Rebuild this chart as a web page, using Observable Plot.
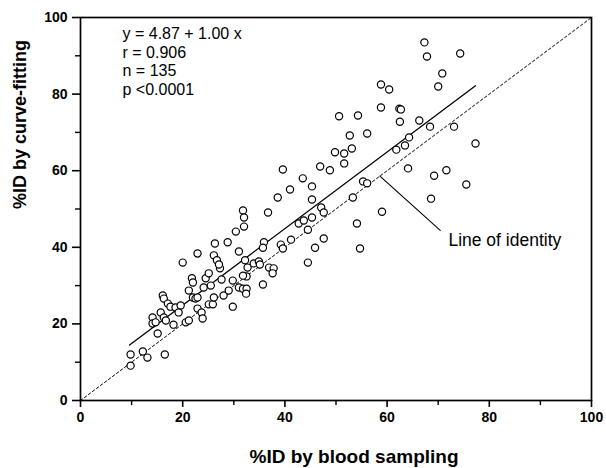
<!DOCTYPE html>
<html>
<head>
<meta charset="utf-8">
<script src="https://cdn.jsdelivr.net/npm/d3@7"></script>
<script src="https://cdn.jsdelivr.net/npm/@observablehq/plot@0.6"></script>
<style>
  html, body { margin: 0; padding: 0; background: #fff; }
  #chart svg { display: block; }
</style>
</head>
<body>
<div id="chart"></div>
<script>
// %ID by blood sampling (x) and %ID by curve-fitting (y)
const bloodSampling = [
  9.8, 9.8, 12.2, 13.1, 16.5, 15.1, 14.1, 14.1, 14.7, 15.7, 16.3, 16.7, 16.1, 16.3, 17.1, 17.6, 18.2, 18.6, 19.6, 19.2,
  20.6, 21.2, 21.2, 21.8, 22.0, 22.0, 22.5, 22.9, 22.9, 23.7, 23.9, 24.1, 24.5, 25.5, 25.1, 25.9, 26.1, 27.3, 27.6, 28.0,
  29.0, 29.8, 29.8, 31.0, 30.4, 28.8, 26.3, 22.9, 20.0, 26.1, 26.7, 27.1, 31.0, 25.1, 36.7, 31.8, 32.0, 32.0, 32.2, 32.7,
  32.5, 31.8, 31.8, 32.5, 32.4, 33.9, 34.9, 35.1, 35.9, 35.7, 35.7, 36.9, 37.8, 37.6, 39.2, 39.6, 41.2, 42.7, 43.7, 44.5,
  45.3, 44.5, 45.9, 47.1, 47.6, 47.6, 54.1, 54.7, 50.6, 54.3, 52.7, 56.1, 49.8, 51.6, 53.1, 51.6, 46.9, 48.8, 39.6, 43.5,
  41.0, 45.3, 38.6, 45.3, 55.3, 56.1, 53.3, 67.3, 67.8, 74.3, 70.8, 70.0, 58.8, 60.4, 58.8, 62.4, 62.7, 62.5, 66.3, 68.4,
  73.1, 64.3, 63.5, 61.8, 77.3, 64.1, 69.2, 71.6, 75.5, 68.6, 59.0
];
const curveFitting = [
  12.0, 9.1, 12.8, 11.2, 12.0, 17.5, 21.7, 20.1, 20.4, 23.0, 21.7, 20.9, 27.4, 26.6, 25.3, 24.5, 19.8, 24.3, 24.8, 23.0,
  20.4, 20.9, 28.7, 31.9, 30.8, 26.9, 26.6, 26.9, 24.0, 23.0, 21.4, 29.5, 31.9, 30.0, 25.1, 25.1, 26.9, 34.5, 31.6, 27.4,
  28.7, 31.3, 24.5, 29.5, 44.1, 41.3, 41.0, 38.4, 36.0, 37.9, 36.6, 35.5, 38.9, 33.2, 49.1, 49.6, 47.8, 45.4, 36.6, 34.7,
  32.4, 32.6, 29.2, 29.2, 27.9, 35.8, 36.3, 35.5, 41.3, 39.9, 30.3, 34.7, 34.5, 33.2, 40.7, 39.7, 42.0, 46.2, 47.0, 44.6,
  47.8, 36.0, 39.9, 50.4, 49.1, 42.3, 46.2, 39.7, 74.2, 74.4, 69.2, 69.7, 64.8, 64.5, 65.8, 61.9, 61.1, 60.1, 60.3, 58.0,
  55.1, 55.9, 53.0, 52.5, 57.2, 56.7, 53.0, 93.5, 89.8, 90.6, 85.4, 82.0, 82.5, 81.2, 76.5, 76.2, 76.0, 72.8, 73.1, 71.5,
  71.5, 68.7, 66.6, 65.5, 67.1, 60.6, 58.7, 60.1, 56.4, 52.7, 49.3
];

// Regression fit: y = 4.87 + 1.00 x over the observed range
const fitIntercept = 4.87;
const fitSlope = 1.00;
const fitRange = [9.6, 77.3];

const statLines = ["y = 4.87 + 1.00 x", "r = 0.906", "n = 135", "p <0.0001"];
const identityLabel = "Line of identity";
const identityLeader = [[58.6, 58.6], [70.4, 44.4]];
const identityLabelAt = [72.0, 41.8];

const majorTicks = [0, 20, 40, 60, 80, 100];
const minorTicks = [10, 30, 50, 70, 90];
const xLabel = "%ID by blood sampling";
const yLabel = "%ID by curve-fitting";

const points = bloodSampling.map((x, i) => ({x, y: curveFitting[i]}));
const fitLine = fitRange.map(x => ({x, y: fitIntercept + fitSlope * x}));
const identityLine = [{x: 0, y: 0}, {x: 100, y: 100}];

const font = "'Liberation Sans', Arial, Helvetica, sans-serif";

const chart = Plot.plot({
  width: 606,
  height: 468,
  marginLeft: 80,
  marginRight: 15,
  marginTop: 17,
  marginBottom: 68,
  style: {fontFamily: font, fontSize: "14px", color: "#000", background: "#fff"},
  x: {domain: [0, 100]},
  y: {domain: [0, 100]},
  marks: [
    Plot.frame({stroke: "#000", strokeWidth: 1.7}),
    Plot.axisX({ticks: majorTicks, tickSize: 7, tickPadding: 5, tickFormat: d => d, fontWeight: "bold", fontSize: 14, strokeWidth: 1.6, label: null}),
    Plot.axisX({ticks: minorTicks, tickSize: 5, tickFormat: () => "", strokeWidth: 1.4, label: null}),
    Plot.axisY({ticks: majorTicks, tickSize: 8, tickPadding: 5, tickFormat: d => d, fontWeight: "bold", fontSize: 14, strokeWidth: 1.6, label: null}),
    Plot.axisY({ticks: minorTicks, tickSize: 5, tickFormat: () => "", strokeWidth: 1.4, label: null}),
    Plot.line(identityLine, {x: "x", y: "y", stroke: "#000", strokeWidth: 1, strokeDasharray: "2.5,2.5"}),
    Plot.line(fitLine, {x: "x", y: "y", stroke: "#000", strokeWidth: 1.3}),
    Plot.dot(points, {x: "x", y: "y", r: 3.6, stroke: "#000", fill: "#fff", strokeWidth: 1.2}),
    Plot.line(identityLeader, {stroke: "#000", strokeWidth: 1.1}),
    Plot.text([identityLabel], {x: identityLabelAt[0], y: identityLabelAt[1], text: d => d, textAnchor: "start", fontSize: 17.5, letterSpacing: "1.2px", fill: "#000"}),
    Plot.text([statLines.join("\n")], {frameAnchor: "top-left", dx: 42, dy: 8, text: d => d, textAnchor: "start", lineAnchor: "top", lineHeight: 1.17, fontSize: 16, letterSpacing: "0.2px", fill: "#000"}),
    Plot.text([xLabel], {frameAnchor: "bottom", dx: 18, dy: 62, text: d => d, fontWeight: "bold", fontSize: 19, fill: "#000", letterSpacing: "1.5px"}),
    Plot.text([yLabel], {frameAnchor: "left", dx: -60, rotate: -90, text: d => d, fontWeight: "bold", fontSize: 18, fill: "#000", letterSpacing: "1.2px"})
  ]
});
document.getElementById("chart").appendChild(chart);
</script>
</body>
</html>
